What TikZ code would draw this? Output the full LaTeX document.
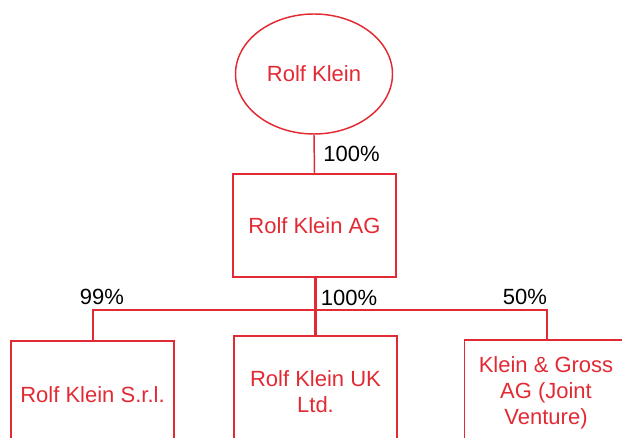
\documentclass[tikz,border=0pt]{standalone}
\usepackage{fontspec}
\setmainfont{Liberation Sans}
\usepackage{xcolor}
\usepackage{tikz}
\usetikzlibrary{shapes.geometric, positioning, calc}

\definecolor{orgred}{RGB}{226,42,52}

\begin{document}
\begin{tikzpicture}[x=0.75pt, y=-0.75pt,
        company/.style={draw=orgred, line width=1.1pt, text=orgred, align=center,
                minimum width=163*0.75pt, inner sep=0pt},
        owner/.style={ellipse, draw=orgred, line width=1.1pt, text=orgred,
                minimum width=157*0.75pt, minimum height=120*0.75pt},
        share/.style={text=black, inner sep=0pt},
        link/.style={draw=orgred, line width=1.1pt}]
        \useasboundingbox (0,0) rectangle (622,438);
        \fontsize{16.5}{19.3}\selectfont

        \node[owner] (klein) at (314,74) {Rolf Klein};
        \node[company, minimum height=103*0.75pt] (ag) at (314.5,225.5) {Rolf Klein AG};

        % Subsidiaries
        \node[company, minimum height=108*0.75pt] (srl) at (92.5,395) {Rolf Klein S.r.l.};
        \node[company, minimum height=112*0.75pt] (uk) at (315.5,392) {Rolf Klein UK\\Ltd.};
        \node[company, minimum height=106*0.75pt] (jv) at (546,393) {Klein \& Gross\\AG (Joint\\Venture)};

        % Connectors
        \coordinate (branch) at (315.5,310);
        \draw[link] (klein.south) -- (ag.north);
        \draw[link, line width=1.8pt] (ag.south -| uk.north) -- (uk.north);
        \draw[link] (srl.north -| 93,0) |- (branch) -| (jv.north -| 547,0);

        \node[share] (p1) at (351.5,154) {100\%};
        \node[share] (p2) at (102,297) {99\%};
        \node[share] (p3) at (349,298) {100\%};
        \node[share] (p4) at (525,297) {50\%};
    \end{tikzpicture}
\end{document}
